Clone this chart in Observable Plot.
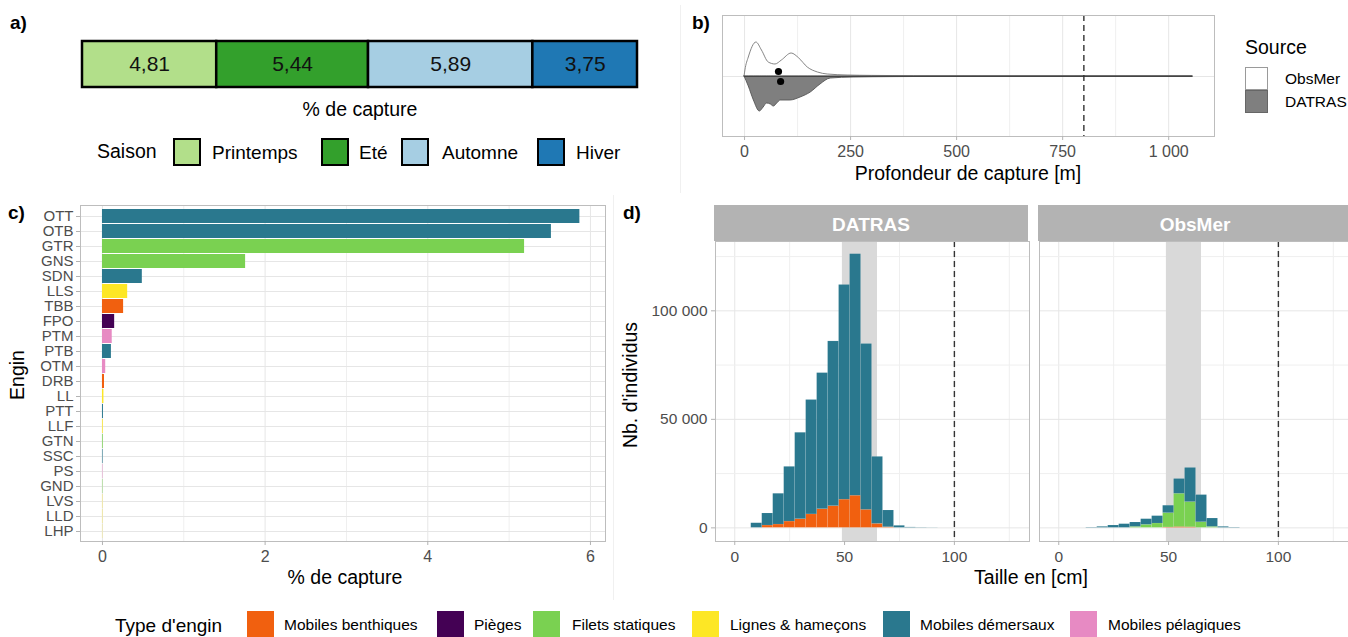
<!DOCTYPE html>
<html><head><meta charset="utf-8">
<script src="https://cdn.jsdelivr.net/npm/d3@7"></script>
<script src="https://cdn.jsdelivr.net/npm/@observablehq/plot@0.6"></script>
<style>
html,body{margin:0;padding:0;background:#fff;overflow:hidden;}
#root{position:relative;width:1348px;height:637px;overflow:hidden;font-family:"Liberation Sans",Arial,Helvetica,sans-serif;color:#000;background:#fff;}
</style></head><body><div id="root"></div>
<script>
// ---------- DATA ----------
const saisons = ["Printemps", "Eté", "Automne", "Hiver"];
const saisonValues = [4.81, 5.44, 5.89, 3.75];
const saisonColors = ["#B2DF8A", "#33A02C", "#A6CEE3", "#1F78B4"];

const depthObsMer = [[0,0],[2,6],[10,19],[28,34],[41,26],[57,14],[73,12],[88,16],[111,23],[129,18],[149,9],[173,4],[196,2],[243,1],[300,0.6],[400,0.3],[500,0.2],[700,0.1],[900,0.05],[1057,0]];
const depthDatras = [[0,0],[10,10],[22,24],[36,35],[45,31],[53,27],[62,28],[69,30],[77,27],[85,24],[108,24],[132,21],[156,16],[179,8],[203,2],[257,1],[350,0.6],[500,0.3],[700,0.15],[1057,0]];
const depthMeans = [80, 85];          // ObsMer, DATRAS
const depthLimit = 800;
const depthMajor = [0, 250, 500, 750, 1000];
const depthMinor = [125, 375, 625, 875];

const engins = ["OTT","OTB","GTR","GNS","SDN","LLS","TBB","FPO","PTM","PTB","OTM","DRB","LL","PTT","LLF","GTN","SSC","PS","GND","LVS","LLD","LHP"];
const enginCapture = [5.87, 5.52, 5.19, 1.76, 0.49, 0.31, 0.26, 0.15, 0.12, 0.11, 0.04, 0.025, 0.018, 0.012, 0.009, 0.009, 0.007, 0.005, 0.005, 0.004, 0.004, 0.003];
const enginType = ["Mobiles démersaux","Mobiles démersaux","Filets statiques","Filets statiques","Mobiles démersaux","Lignes & hameçons","Mobiles benthiques","Pièges","Mobiles pélagiques","Mobiles démersaux","Mobiles pélagiques","Mobiles benthiques","Lignes & hameçons","Mobiles démersaux","Lignes & hameçons","Filets statiques","Mobiles démersaux","Mobiles pélagiques","Filets statiques","Lignes & hameçons","Lignes & hameçons","Lignes & hameçons"];
const captureMajor = [0, 2, 4, 6];
const captureMinor = [1, 3, 5];

const types = ["Mobiles benthiques","Pièges","Filets statiques","Lignes & hameçons","Mobiles démersaux","Mobiles pélagiques"];
const typeColors = ["#F1600F","#440154","#7AD151","#FDE725","#2A788E","#E78AC3"];

const sources = ["DATRAS", "ObsMer"];
const tailleBins = [10,15,20,25,30,35,40,45,50,55,60,65,70,75,80,85,90];
const binWidth = 5;
const datrasBenthiques = [0,1070,1530,2900,4000,6200,8600,10000,13000,14800,8300,1850,300,0,0,0,0];
const datrasDemersaux  = [2130,5550,14170,25200,39800,52700,62700,75900,98900,111300,76400,30850,7700,930,200,100,50];
const obsBenthiques    = [0,0,0,0,0,0,0,0,200,400,300,0,0,0,0,0,0];
const obsFilets        = [0,0,0,0,0,460,1400,2000,6600,15300,11600,2600,460,0,0,0,0];
const obsDemersaux     = [0,150,460,1080,1700,2010,2600,3400,3400,6800,15700,12500,3840,460,150,0,0];
const tailleBand = [49, 65];
const tailleLimit = 100;
const tailleMajor = [0, 50, 100];
const tailleMinor = [25, 75, 125];
const countMajor = [0, 50000, 100000];
const countMinor = [25000, 75000, 125000];

// ---------- HELPERS ----------
const root = document.getElementById("root");
const FONT = "Liberation Sans, Arial, Helvetica, sans-serif";
const GRID = "#E6E6E6", GRIDMIN = "#EFEFEF", FRAME = "#BDBDBD", TICK = "#B3B3B3", TXT = "#4D4D4D";
const fmtSpace = d => d3.format(",")(d).replace(/,/g, " ");
const fmtComma = d => d3.format(".2f")(d).replace(".", ",");

function label(text, x, y, o = {}) {
  const d = document.createElement("div");
  d.textContent = text;
  const ax = o.anchor === "middle" ? "-50%" : o.anchor === "end" ? "-100%" : "0";
  d.style.cssText = `position:absolute;left:${x}px;top:${y}px;font-size:${o.size || 19}px;white-space:nowrap;line-height:1;color:${o.color || "#000"};font-weight:${o.bold ? "bold" : "normal"};`;
  d.style.transform = `translate(${ax},-50%)` + (o.rotate ? ` rotate(${o.rotate}deg)` : "");
  root.appendChild(d);
  return d;
}
function box(x, y, w, h, css) {
  const d = document.createElement("div");
  d.style.cssText = `position:absolute;left:${x}px;top:${y}px;width:${w}px;height:${h}px;box-sizing:border-box;${css}`;
  root.appendChild(d);
  return d;
}
function place(svg, x, y) {
  svg.style.position = "absolute";
  svg.style.left = x + "px";
  svg.style.top = y + "px";
  root.appendChild(svg);
}
const baseStyle = {fontFamily: FONT, fontSize: "15px", color: TXT, background: "none", overflow: "visible"};

// faint separators
box(680, 5, 1, 188, "background:#F0F0F0;");
box(613, 195, 1, 405, "background:#F0F0F0;");

// ---------- PANEL A ----------
const saisonRows = saisons.map((s, i) => ({s, v: saisonValues[i]}));
const pa = Plot.plot({
  width: 580, height: 60, marginLeft: 12, marginRight: 13, marginTop: 11, marginBottom: 3,
  x: {domain: [0, d3.sum(saisonValues)], axis: null},
  color: {domain: saisons, range: saisonColors},
  style: baseStyle,
  marks: [
    Plot.barX(saisonRows, {x: "v", fill: "s", stroke: "black", strokeWidth: 2.5}),
    Plot.text(saisonRows, Plot.stackX({x: "v", text: d => fmtComma(d.v), fill: "#111", fontSize: 21}))
  ]
});
place(pa, 70, 30);
label("a)", 10, 22, {bold: true, size: 19});
label("% de capture", 360, 110, {anchor: "middle", size: 19.5});
label("Saison", 97, 152, {size: 19.5});
const saisonLegX = [[173, 212], [321, 359], [401, 442], [537, 576]];
saisons.forEach((s, i) => {
  box(saisonLegX[i][0], 138, 28, 28, `background:${saisonColors[i]};border:2px solid #000;`);
  label(s, saisonLegX[i][1], 152, {size: 19});
});

// ---------- PANEL B ----------
const pb = Plot.plot({
  width: 530, height: 170, marginLeft: 22, marginRight: 16, marginTop: 10, marginBottom: 39,
  x: {domain: [-52, 1108]},
  y: {domain: [-60, 61], axis: null},
  style: baseStyle,
  marks: [
    Plot.ruleX(depthMinor, {stroke: GRIDMIN, strokeWidth: 1}),
    Plot.ruleX(depthMajor, {stroke: GRID, strokeWidth: 1}),
    Plot.ruleY([0], {stroke: GRID, strokeWidth: 1}),
    Plot.areaY(depthObsMer, {x: d => d[0], y1: 0, y2: d => d[1], fill: "white", stroke: "#777", strokeWidth: 0.9, curve: "monotone-x"}),
    Plot.areaY(depthDatras, {x: d => d[0], y1: 0, y2: d => -d[1], fill: "#7F7F7F", stroke: "#555", strokeWidth: 0.9, curve: "monotone-x"}),
    Plot.ruleY([0], {x1: 0, x2: 1057, stroke: "#444", strokeWidth: 1}),
    Plot.dot(sources.slice().reverse(), {x: (d, i) => depthMeans[i], y: (d, i) => (i === 0 ? 5 : -5), r: 3.6, fill: "black"}),
    Plot.ruleX([depthLimit], {stroke: "#333", strokeDasharray: "6,4", strokeWidth: 1.4}),
    Plot.frame({stroke: FRAME}),
    Plot.axisX({ticks: depthMajor, tickFormat: fmtSpace, tickSize: 4, stroke: TICK, fill: TXT, fontSize: 16, label: null})
  ]
});
place(pb, 700, 5);
label("b)", 692, 22, {bold: true, size: 19});
label("Profondeur de capture [m]", 968, 174, {anchor: "middle", size: 19.5});
label("Source", 1245, 48, {size: 19.5});
box(1245, 67, 23, 23, "background:#fff;border:1px solid #9a9a9a;");
box(1245, 90, 23, 23, "background:#7F7F7F;border:1px solid #666;");
label("ObsMer", 1285, 79, {size: 15.5});
label("DATRAS", 1285, 102, {size: 15.5});

// ---------- PANEL C ----------
const enginRows = engins.map((g, i) => ({g, v: enginCapture[i], t: enginType[i]}));
const pc = Plot.plot({
  width: 600, height: 385, marginLeft: 60, marginRight: 15, marginTop: 10, marginBottom: 39,
  x: {domain: [-0.27, 6.185]},
  y: {domain: engins, paddingInner: 0.1, paddingOuter: 0.15},
  color: {domain: types, range: typeColors},
  style: baseStyle,
  marks: [
    Plot.ruleX(captureMinor, {stroke: GRIDMIN, strokeWidth: 1}),
    Plot.ruleX(captureMajor, {stroke: GRID, strokeWidth: 1}),
    Plot.gridY({stroke: GRID, strokeOpacity: 1, strokeWidth: 1}),
    Plot.barX(enginRows, {x: "v", y: "g", fill: "t"}),
    Plot.frame({stroke: FRAME}),
    Plot.axisX({ticks: captureMajor, tickFormat: d => String(d), tickSize: 4, stroke: TICK, fill: TXT, fontSize: 16, label: null}),
    Plot.axisY({tickSize: 4, tickPadding: 3, stroke: TICK, fill: TXT, fontSize: 15, label: null})
  ]
});
place(pc, 20, 195);
label("c)", 8, 212, {bold: true, size: 19});
label("% de capture", 345, 578, {anchor: "middle", size: 19.5});
label("Engin", 18, 375, {anchor: "middle", size: 19.5, rotate: -90});

// ---------- PANEL D ----------
const histRows = [];
function pushSeries(source, type, values) {
  values.forEach((n, i) => { if (n > 0) histRows.push({source, type, bin: tailleBins[i], n}); });
}
pushSeries("DATRAS", "Mobiles benthiques", datrasBenthiques);
pushSeries("DATRAS", "Mobiles démersaux", datrasDemersaux);
pushSeries("ObsMer", "Mobiles benthiques", obsBenthiques);
pushSeries("ObsMer", "Filets statiques", obsFilets);
pushSeries("ObsMer", "Mobiles démersaux", obsDemersaux);

const pd = Plot.plot({
  width: 720, height: 345, marginLeft: 74, marginRight: 7, marginTop: 5, marginBottom: 40,
  fx: {domain: sources, paddingInner: 0.031, paddingOuter: 0, axis: null, label: null},
  x: {domain: [-8.77, 134.2]},
  y: {domain: [-6283, 131943]},
  color: {domain: types, range: typeColors},
  style: baseStyle,
  marks: [
    Plot.ruleX(tailleMinor, {stroke: GRIDMIN, strokeWidth: 1}),
    Plot.ruleX(tailleMajor, {stroke: GRID, strokeWidth: 1}),
    Plot.ruleY(countMinor, {stroke: GRIDMIN, strokeWidth: 1}),
    Plot.ruleY(countMajor, {stroke: GRID, strokeWidth: 1}),
    Plot.rect([tailleBand], {x1: d => d[0], x2: d => d[1], fill: "#D9D9D9"}),
    Plot.rectY(histRows, {x1: d => d.bin - binWidth / 2, x2: d => d.bin + binWidth / 2, y: "n", fill: "type", fx: "source", stroke: "white", strokeOpacity: 0.15, strokeWidth: 0.5}),
    Plot.ruleX([tailleLimit], {stroke: "#333", strokeDasharray: "6,4", strokeWidth: 1.4}),
    Plot.frame({stroke: FRAME}),
    Plot.axisX({ticks: tailleMajor, tickSize: 4, stroke: TICK, fill: TXT, fontSize: 15.5, label: null}),
    Plot.axisY({ticks: countMajor, tickFormat: fmtSpace, tickSize: 4, tickPadding: 4, stroke: TICK, fill: TXT, fontSize: 15.5, label: null})
  ]
});
place(pd, 640, 236);
label("d)", 623, 212, {bold: true, size: 19});
const stripX = [[714, 314], [1038, 320]];
sources.forEach((s, i) => {
  box(stripX[i][0], 205, stripX[i][1], 36, "background:#B3B3B3;");
  label(s, stripX[i][0] + 157, 224, {anchor: "middle", size: 19, bold: true, color: "#fff"});
});
label("Taille en [cm]", 1031, 578, {anchor: "middle", size: 19.5});
label("Nb. d'individus", 631, 385, {anchor: "middle", size: 19.5, rotate: -90});

// ---------- BOTTOM LEGEND ----------
label("Type d'engin", 115, 625, {size: 19});
const typeLegX = [[247, 284], [437, 474], [533, 572], [692, 730], [883, 920], [1070, 1108]];
types.forEach((t, i) => {
  box(typeLegX[i][0], 611, 27, 27, `background:${typeColors[i]};`);
  label(t, typeLegX[i][1], 625, {size: 15.5});
});
</script></body></html>
